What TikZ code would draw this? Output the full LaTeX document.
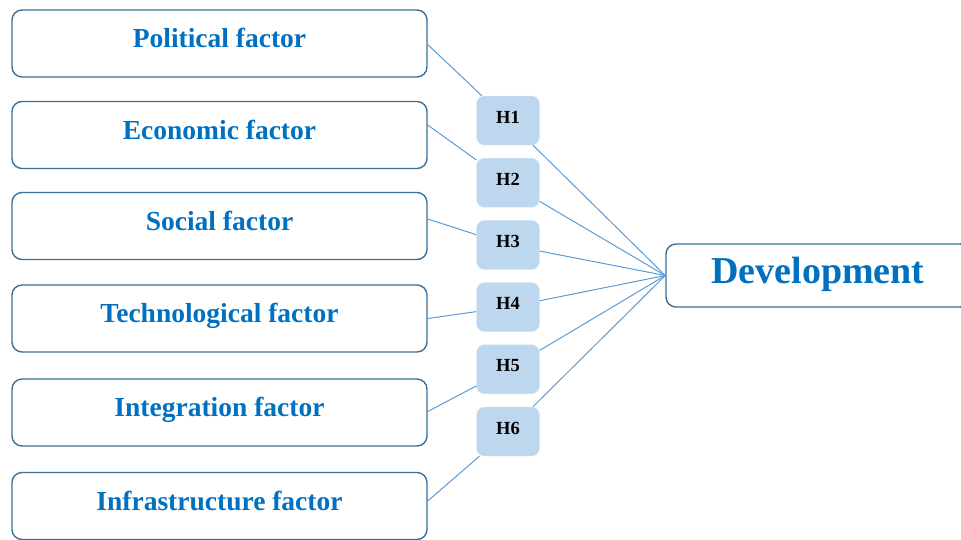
\documentclass[tikz,border=0pt]{standalone}
\usepackage{fontspec}
\setmainfont{Liberation Serif}
\usetikzlibrary{positioning,calc}
\definecolor{fblue}{RGB}{0,112,192}
\definecolor{oblue}{RGB}{58,112,152}
\definecolor{hblue}{RGB}{189,215,238}
\definecolor{lblue}{RGB}{91,155,213}

\begin{document}
\begin{tikzpicture}[x=1pt, y=-1pt,
    factor/.style={draw=oblue, line width=1.4pt, rounded corners=10pt, minimum width=415pt, minimum height=67pt,
        inner sep=0pt, text height=18pt, text depth=10pt, text=fblue, font=\fontsize{27.5}{30}\selectfont\bfseries},
    hyp/.style={fill=hblue, draw=hblue!60!white, rounded corners=8pt, minimum width=63pt, minimum height=49pt,
        inner sep=0pt, text height=13pt, text depth=8pt, font=\fontsize{18.5}{20}\selectfont\bfseries},
    link/.style={draw=lblue, line width=1pt}]

        \useasboundingbox (0,0) rectangle (961,539);

        \foreach \lab/\yy [count=\c]
            in {Political factor/43.5, Economic factor/135, Social factor/226, Technological factor/318.5,
                Integration factor/412.5, Infrastructure factor/506} {
                \node[factor] (f\c) at (219.5,\yy) {\lab};

        }

        \foreach \c [evaluate=\c as \yy using {120.5+62.2*(\c-1)}] in {1,...,6} {
            \node[hyp] (h\c) at (508,\yy) {H\c};
        }

        \node[factor, minimum width=304pt, minimum height=63pt, text height=25pt, text depth=10pt,
            font=\fontsize{38}{40}\selectfont\bfseries] (dev) at (818,275.5) {Development};

        % factors to hypotheses
        \draw[link] ([yshift=-1pt]f1.east) -- (h1);
        \draw[link] ([yshift=10pt]f2.east) -- (h2);
        \draw[link] ([yshift=7pt]f3.east) -- (h3);
        \draw[link] (f4.east) -- (h4);
        \draw[link] ([yshift=1pt]f5.east) -- (h5);
        \draw[link] ([yshift=5pt]f6.east) -- (h6);

        % hypotheses to development
        \foreach \c in {1,...,6} {
            \draw[link] (h\c) -- (dev.west);
        }

    \end{tikzpicture}
\end{document}
